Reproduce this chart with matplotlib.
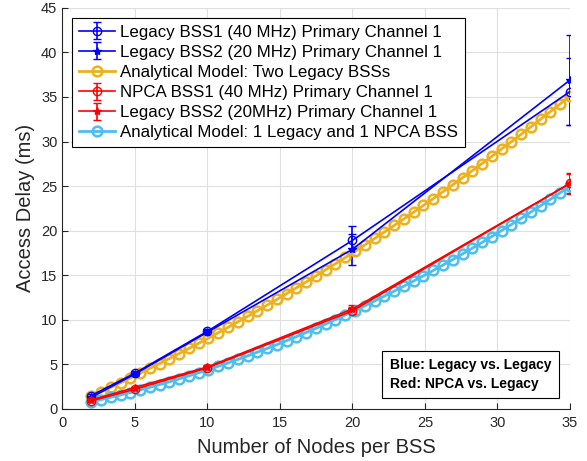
import matplotlib.pyplot as plt
import numpy as np

plt.rcParams['font.family'] = ['Liberation Sans', 'DejaVu Sans']

# simulation points
nodes = [2, 5, 10, 20, 35]

leg1_40 = [1.5, 4.0, 8.7, 18.9, 35.6]
leg1_40_err = [0.2, 0.2, 0.3, 1.6, 3.75]
leg2_20 = [1.3, 3.9, 8.6, 17.9, 36.9]
leg2_20_err = [0.2, 0.2, 0.3, 1.7, 5.1]

npca1_40 = [0.9, 2.2, 4.6, 11.0, 25.3]
npca1_40_err = [0.1, 0.1, 0.2, 0.4, 1.1]
leg2_npca = [1.0, 2.4, 4.7, 11.2, 25.3]
leg2_npca_err = [0.1, 0.1, 0.2, 0.5, 1.2]

# analytical model
n_model = np.linspace(2, 35, 50)
model_two_legacy = [1.40, 1.90, 2.42, 2.93, 3.46, 4.00, 4.54, 5.09, 5.65, 6.21,
                    6.78, 7.36, 7.95, 8.55, 9.15, 9.76, 10.38, 11.01, 11.64, 12.28,
                    12.93, 13.59, 14.25, 14.93, 15.61, 16.29, 16.99, 17.69, 18.40, 19.12,
                    19.85, 20.58, 21.32, 22.07, 22.83, 23.59, 24.37, 25.14, 25.93, 26.73,
                    27.53, 28.34, 29.16, 29.98, 30.82, 31.66, 32.51, 33.36, 34.23, 35.10]
model_npca = [0.80, 1.04, 1.30, 1.56, 1.84, 2.12, 2.42, 2.73, 3.04, 3.37,
              3.71, 4.06, 4.41, 4.78, 5.16, 5.55, 5.95, 6.36, 6.78, 7.21,
              7.66, 8.11, 8.57, 9.04, 9.53, 10.02, 10.53, 11.04, 11.57, 12.10,
              12.65, 13.20, 13.77, 14.35, 14.93, 15.53, 16.14, 16.76, 17.39, 18.03,
              18.68, 19.34, 20.01, 20.69, 21.38, 22.09, 22.80, 23.52, 24.25, 25.00]

blue = '#0000FF'
red = '#FF0000'
orange = '#EDB120'
cyan = '#4DBEEE'

fig = plt.figure(figsize=(5.87, 4.61), dpi=100)
ax = fig.add_axes([0.106, 0.113, 0.865, 0.870])

h1 = ax.errorbar(nodes, leg1_40, yerr=leg1_40_err, color=blue, marker='o', mfc='none',
                 ms=6, lw=1.2, capsize=3, label='Legacy BSS1 (40 MHz) Primary Channel 1')
h2 = ax.errorbar(nodes, leg2_20, yerr=leg2_20_err, color=blue, marker='*',
                 ms=6, lw=1.2, capsize=3, label='Legacy BSS2 (20 MHz) Primary Channel 1')
h3, = ax.plot(n_model, model_two_legacy, color=orange, marker='o', mfc='none', ms=7,
              mew=1.8, lw=2, label='Analytical Model: Two Legacy BSSs')
h4 = ax.errorbar(nodes, npca1_40, yerr=npca1_40_err, color=red, marker='o', mfc='none',
                 ms=6, lw=1.2, capsize=3, label='NPCA BSS1 (40 MHz) Primary Channel 1')
h5 = ax.errorbar(nodes, leg2_npca, yerr=leg2_npca_err, color=red, marker='*',
                 ms=6, lw=1.2, capsize=3, label='Legacy BSS2 (20MHz) Primary Channel 1')
h6, = ax.plot(n_model, model_npca, color=cyan, marker='o', mfc='none', ms=7,
              mew=1.8, lw=2, label='Analytical Model: 1 Legacy and 1 NPCA BSS')

ax.set_xlim(0, 35)
ax.set_ylim(0, 45)
ax.set_xticks(range(0, 36, 5))
ax.set_yticks(range(0, 46, 5))
ax.grid(True, color='#DFDFDF', lw=0.8)
ax.set_axisbelow(True)
for s in ['top', 'right']:
    ax.spines[s].set_visible(False)
for s in ['left', 'bottom']:
    ax.spines[s].set_color('#262626')
    ax.spines[s].set_linewidth(0.8)
ax.tick_params(direction='in', labelsize=10.5, colors='#262626', length=4)
ax.tick_params(axis='x', pad=5)

ax.set_xlabel('Number of Nodes per BSS', fontsize=14.5, color='#262626', labelpad=6)
ax.set_ylabel('Access Delay (ms)', fontsize=14.5, color='#262626')

leg = ax.legend(handles=[h1, h2, h3, h4, h5, h6], loc='upper left', fontsize=12.2,
                labelspacing=0.3, handlelength=2.1, handletextpad=0.3, borderpad=0.4,
                borderaxespad=0.6, fancybox=False, framealpha=1, edgecolor='black')
leg.get_frame().set_linewidth(0.8)

ax.text(0.963, 0.045, 'Blue: Legacy vs. Legacy\nRed: NPCA vs. Legacy',
        transform=ax.transAxes, ha='right', va='bottom', multialignment='left',
        fontsize=10, fontweight='bold', linespacing=1.4,
        bbox=dict(boxstyle='square,pad=0.55', fc='white', ec='black', lw=0.8))

plt.savefig('out.png', dpi=100)
